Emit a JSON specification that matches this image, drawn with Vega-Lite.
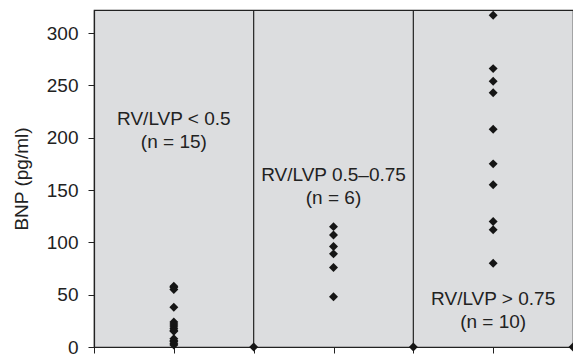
{
  "$schema": "https://vega.github.io/schema/vega-lite/v6.json",
  "width": 479,
  "height": 337,
  "autosize": {"type": "none"},
  "padding": {"left": 94, "top": 10, "right": 0, "bottom": 7},
  "background": "white",
  "config": {
    "view": {"fill": "#dcdddf", "stroke": "#222222", "strokeWidth": 1.2},
    "font": "Liberation Sans"
  },
  "datasets": {
    "points": [
      {"group": 1, "bnp": 58}, {"group": 1, "bnp": 57}, {"group": 1, "bnp": 55},
      {"group": 1, "bnp": 38}, {"group": 1, "bnp": 24}, {"group": 1, "bnp": 22},
      {"group": 1, "bnp": 20}, {"group": 1, "bnp": 18}, {"group": 1, "bnp": 16},
      {"group": 1, "bnp": 15}, {"group": 1, "bnp": 8}, {"group": 1, "bnp": 6},
      {"group": 1, "bnp": 5}, {"group": 1, "bnp": 3}, {"group": 1, "bnp": 2},
      {"group": 2, "bnp": 0},
      {"group": 3, "bnp": 115}, {"group": 3, "bnp": 107}, {"group": 3, "bnp": 96},
      {"group": 3, "bnp": 89}, {"group": 3, "bnp": 76}, {"group": 3, "bnp": 48},
      {"group": 4, "bnp": 0},
      {"group": 5, "bnp": 317}, {"group": 5, "bnp": 266}, {"group": 5, "bnp": 254},
      {"group": 5, "bnp": 243}, {"group": 5, "bnp": 208}, {"group": 5, "bnp": 175},
      {"group": 5, "bnp": 155}, {"group": 5, "bnp": 120}, {"group": 5, "bnp": 112},
      {"group": 5, "bnp": 80},
      {"group": 6, "bnp": 0}
    ],
    "dividers": [{"group": 2}, {"group": 4}],
    "labels": [
      {"group": 1, "bnp": 218, "label": "RV/LVP < 0.5\n(n = 15)"},
      {"group": 3, "bnp": 164, "label": "RV/LVP 0.5–0.75\n(n = 6)"},
      {"group": 5, "bnp": 46, "label": "RV/LVP > 0.75\n(n = 10)"}
    ]
  },
  "layer": [
    {
      "data": {"name": "dividers"},
      "mark": {"type": "rule", "color": "#222222", "strokeWidth": 1.2},
      "encoding": {
        "x": {"field": "group", "type": "quantitative", "title": null,
              "scale": {"domain": [0, 6], "nice": false, "zero": false}}
      }
    },
    {
      "data": {"name": "points"},
      "mark": {"type": "point", "shape": "diamond", "filled": true, "size": 80, "color": "#151515", "opacity": 1, "clip": false},
      "encoding": {
        "x": {"field": "group", "type": "quantitative", "title": null,
              "scale": {"domain": [0, 6], "nice": false, "zero": false},
              "axis": {"values": [0, 1, 2, 3, 4, 5, 6], "labels": false, "grid": false, "domainColor": "#222222", "domainWidth": 1.2, "tickColor": "#222222", "tickSize": 6, "tickWidth": 1}},
        "y": {"field": "bnp", "type": "quantitative", "title": "BNP (pg/ml)",
              "scale": {"domain": [0, 322], "nice": false},
              "axis": {"values": [0, 50, 100, 150, 200, 250, 300], "grid": false, "domainColor": "#222222", "domainWidth": 1.2, "tickColor": "#222222", "tickSize": 6, "tickWidth": 1, "labelFontSize": 19, "labelColor": "#222222", "labelPadding": 10, "titleFontSize": 19, "titleFontWeight": "normal", "titleColor": "#222222", "titlePadding": 15}}
      }
    },
    {
      "data": {"name": "labels"},
      "mark": {"type": "text", "fontSize": 19, "color": "#222222", "lineBreak": "\n", "lineHeight": 23, "align": "center", "baseline": "middle"},
      "encoding": {
        "x": {"field": "group", "type": "quantitative", "title": null},
        "y": {"field": "bnp", "type": "quantitative", "title": "BNP (pg/ml)"},
        "text": {"field": "label"}
      }
    }
  ]
}
